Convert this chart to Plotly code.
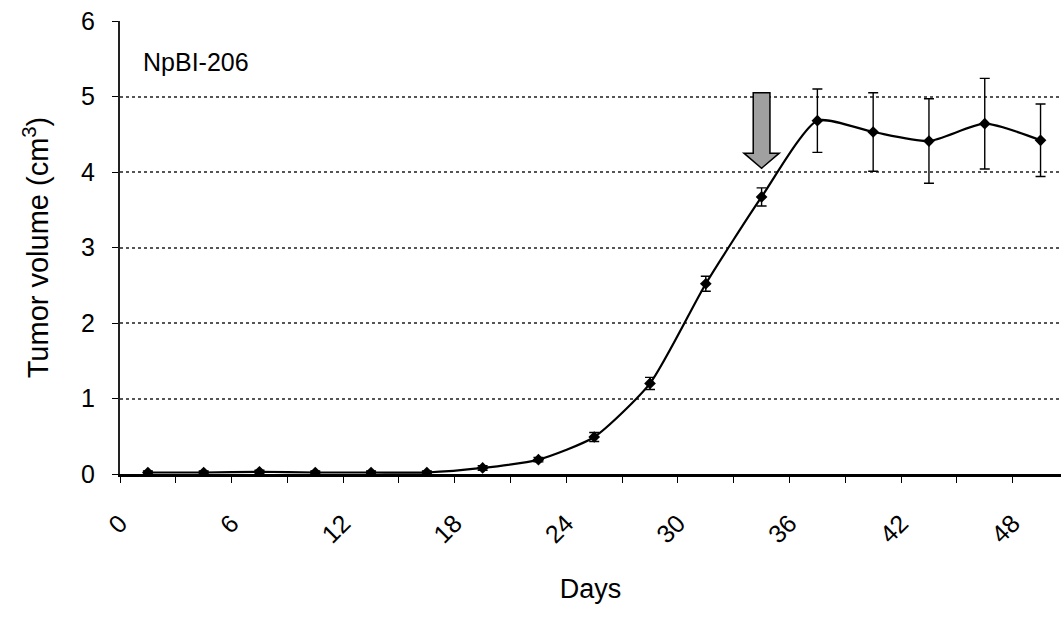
import plotly.graph_objects as go

# Data
days = [1.5, 4.5, 7.5, 10.5, 13.5, 16.5, 19.5, 22.5, 25.5, 28.5, 31.5, 34.5, 37.5, 40.5, 43.5, 46.5, 49.5]
volume = [0.02, 0.02, 0.03, 0.02, 0.02, 0.02, 0.08, 0.19, 0.49, 1.20, 2.52, 3.67, 4.68, 4.53, 4.41, 4.64, 4.42]
error = [0.02, 0.02, 0.02, 0.02, 0.02, 0.02, 0.03, 0.03, 0.06, 0.08, 0.10, 0.12, 0.42, 0.52, 0.56, 0.60, 0.48]

x_tick_vals = [0, 6, 12, 18, 24, 30, 36, 42, 48]
y_tick_vals = [0, 1, 2, 3, 4, 5, 6]

label_text = "NpBI-206"
x_title = "Days"
y_title = "Tumor volume (cm<sup>3</sup>)"

# Treatment arrow (data units)
arrow_day = 34.5
arrow_top = 5.05
arrow_head = 4.25
arrow_tip = 4.05
shaft_half = 0.45
head_half = 0.95

FONT = "Liberation Sans, Arial, sans-serif"

fig = go.Figure()
fig.add_trace(go.Scatter(
    x=days, y=volume,
    mode="lines+markers",
    line=dict(color="black", width=2.2, shape="spline", smoothing=0.6),
    marker=dict(symbol="diamond", size=9, color="black"),
    error_y=dict(type="data", array=error, visible=True, color="black", thickness=1.4, width=5),
    showlegend=False,
))

path = (
    f"M {arrow_day - shaft_half},{arrow_top} "
    f"L {arrow_day + shaft_half},{arrow_top} "
    f"L {arrow_day + shaft_half},{arrow_head} "
    f"L {arrow_day + head_half},{arrow_head} "
    f"L {arrow_day},{arrow_tip} "
    f"L {arrow_day - head_half},{arrow_head} "
    f"L {arrow_day - shaft_half},{arrow_head} Z"
)
fig.add_shape(type="path", path=path, xref="x", yref="y",
              fillcolor="#a0a0a0", line=dict(color="black", width=1.5), layer="above")

fig.add_annotation(text=label_text, xref="paper", yref="paper", x=0.022, y=0.91,
                   xanchor="left", yanchor="middle", showarrow=False,
                   font=dict(family=FONT, size=25, color="black"))

fig.update_layout(
    width=1061, height=635,
    margin=dict(l=120, r=0, t=21, b=161),
    paper_bgcolor="white", plot_bgcolor="white",
    font=dict(family=FONT, color="black"),
    xaxis=dict(
        range=[0, 50.6], tickvals=x_tick_vals, tickangle=-45,
        ticks="outside", ticklen=6, tickcolor="black",
        minor=dict(dtick=3, tick0=0, ticks="outside", ticklen=6, tickcolor="black", showgrid=False),
        showgrid=False, zeroline=False,
        showline=True, linecolor="black", linewidth=2.5,
        tickfont=dict(size=25, family=FONT), ticklabelstandoff=16,
        title=dict(text=x_title, font=dict(size=27, family=FONT), standoff=32),
    ),
    yaxis=dict(
        range=[0, 6], tickvals=y_tick_vals,
        ticks="outside", ticklen=6, tickcolor="black",
        showgrid=True, gridcolor="#555555", griddash="dot", gridwidth=1.5,
        zeroline=False,
        showline=True, linecolor="#222222", linewidth=2,
        tickfont=dict(size=25, family=FONT), ticklabelstandoff=12,
        title=dict(text=y_title, font=dict(size=29, family=FONT), standoff=24),
    ),
)

fig.write_html("out.html")
